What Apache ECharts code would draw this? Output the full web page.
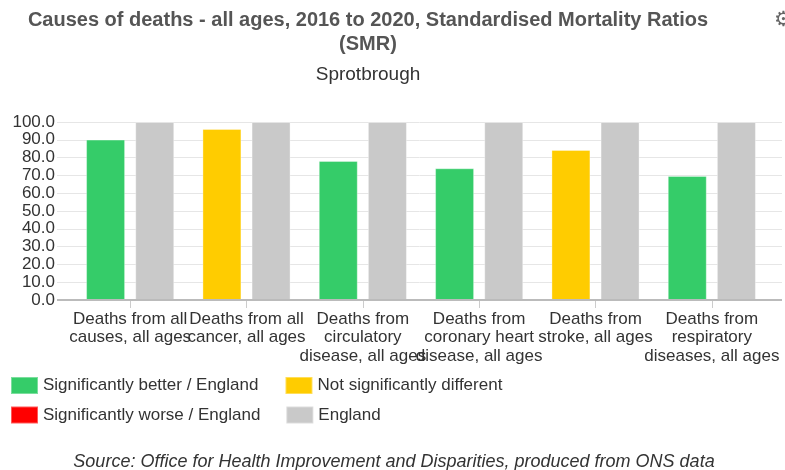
<!DOCTYPE html>
<html><head><meta charset="utf-8">
<script src="https://cdn.jsdelivr.net/npm/echarts@6/dist/echarts.min.js"></script>
<style>html,body{margin:0;padding:0;background:#fff}#c{width:785px;height:470px}</style>
</head><body><div id="c"></div>
<script>
const categories = [
  "Deaths from all\ncauses, all ages",
  "Deaths from all\ncancer, all ages",
  "Deaths from\ncirculatory\ndisease, all ages",
  "Deaths from\ncoronary heart\ndisease, all ages",
  "Deaths from\nstroke, all ages",
  "Deaths from\nrespiratory\ndiseases, all ages"
];
const areaValues = [90.1, 96.1, 78.1, 74.0, 84.3, 69.7];
const significance = ["better", "similar", "better", "better", "similar", "better"];
const englandValues = [100, 100, 100, 100, 100, 100];
const yTicks = [0, 10, 20, 30, 40, 50, 60, 70, 80, 90, 100];

const sigNames = {
  better: "Significantly better / England",
  similar: "Not significantly different",
  worse: "Significantly worse / England"
};
const sigColors = { better: "#35CC69", similar: "#FFCC00", worse: "#FF0000" };
const englandColor = "#C9C9C9";
const FONT = "Liberation Sans, Arial, sans-serif";

const sigSeries = Object.keys(sigNames).map(k => ({
  name: sigNames[k],
  type: "bar",
  stack: "area",
  xAxisIndex: 1, yAxisIndex: 1,
  barWidth: 39,
  barGap: "26%",
  itemStyle: { color: sigColors[k], borderColor: "rgba(255,255,255,0.35)", borderWidth: 1 },
  data: areaValues.map((v, i) => significance[i] === k ? v : null)
}));

const chart = echarts.init(document.getElementById("c"), null, { renderer: "canvas" });
chart.setOption({
  animation: false,
  title: [
    { text: "Causes of deaths - all ages, 2016 to 2020, Standardised Mortality Ratios\n(SMR)",
      left: 368, textAlign: "center", top: 8, padding: 0,
      textStyle: { fontFamily: FONT, fontSize: 20, fontWeight: "bold", color: "#555", lineHeight: 24 } },
    { text: "Sprotbrough", left: 368, textAlign: "center", top: 65, padding: 0,
      textStyle: { fontFamily: FONT, fontSize: 19, fontWeight: "normal", color: "#333", lineHeight: 20 } },
    { text: "Source: Office for Health Improvement and Disparities, produced from ONS data",
      left: 394, textAlign: "center", top: 452, padding: 0,
      textStyle: { fontFamily: FONT, fontSize: 18, fontStyle: "italic", fontWeight: "normal", color: "#333", lineHeight: 20 } }
  ],
  graphic: [
    { type: "text", left: 774, top: 10, style: { text: "\u2699", fontSize: 21, fill: "#666", fontFamily: "DejaVu Sans" } }
  ],
  legend: [
    { data: [sigNames.better, sigNames.similar], left: 10, top: 376, padding: 0, itemWidth: 27, itemHeight: 17,
      itemGap: 26, icon: "rect",
      textStyle: { fontFamily: FONT, fontSize: 17, color: "#333" } },
    { data: [sigNames.worse, "England"], left: 10, top: 405.5, padding: 0, itemWidth: 27, itemHeight: 17,
      itemGap: 25, icon: "rect",
      textStyle: { fontFamily: FONT, fontSize: 17, color: "#333" } }
  ],
  grid: [
    { left: 57, right: 3, top: 122, height: 178 },
    { left: 72, right: 15, top: 122, height: 178 }
  ],
  xAxis: [
    { type: "category", gridIndex: 0, data: categories, show: false },
    { type: "category", gridIndex: 1, data: categories,
      axisLine: { show: false },
      axisTick: { show: true, alignWithLabel: true, length: 8, lineStyle: { color: "#ccc" } },
      axisLabel: { interval: 0, fontFamily: FONT, fontSize: 17, color: "#333", lineHeight: 18.5, margin: 10 } }
  ],
  yAxis: [
    { type: "value", gridIndex: 0, min: 0, max: 100, interval: 10,
      axisLine: { show: false }, axisTick: { show: false },
      splitLine: { lineStyle: { color: "#e6e6e6", width: 1 } },
      axisLabel: { fontFamily: FONT, fontSize: 17, color: "#333", margin: 2,
        formatter: v => yTicks.includes(v) ? v.toFixed(1) : "" } },
    { type: "value", gridIndex: 1, min: 0, max: 100, interval: 10, show: false }
  ],
  series: [
    ...sigSeries,
    { name: "England", type: "bar", xAxisIndex: 1, yAxisIndex: 1, barWidth: 39, barGap: "26%",
      itemStyle: { color: englandColor, borderColor: "rgba(255,255,255,0.35)", borderWidth: 1 },
      data: englandValues },
    { type: "line", xAxisIndex: 0, yAxisIndex: 0, data: [], silent: true,
      markLine: { symbol: "none", silent: true, label: { show: false },
        lineStyle: { color: "#bbb", width: 2, type: "solid" }, data: [{ yAxis: 0 }] } }
  ]
});
</script></body></html>
